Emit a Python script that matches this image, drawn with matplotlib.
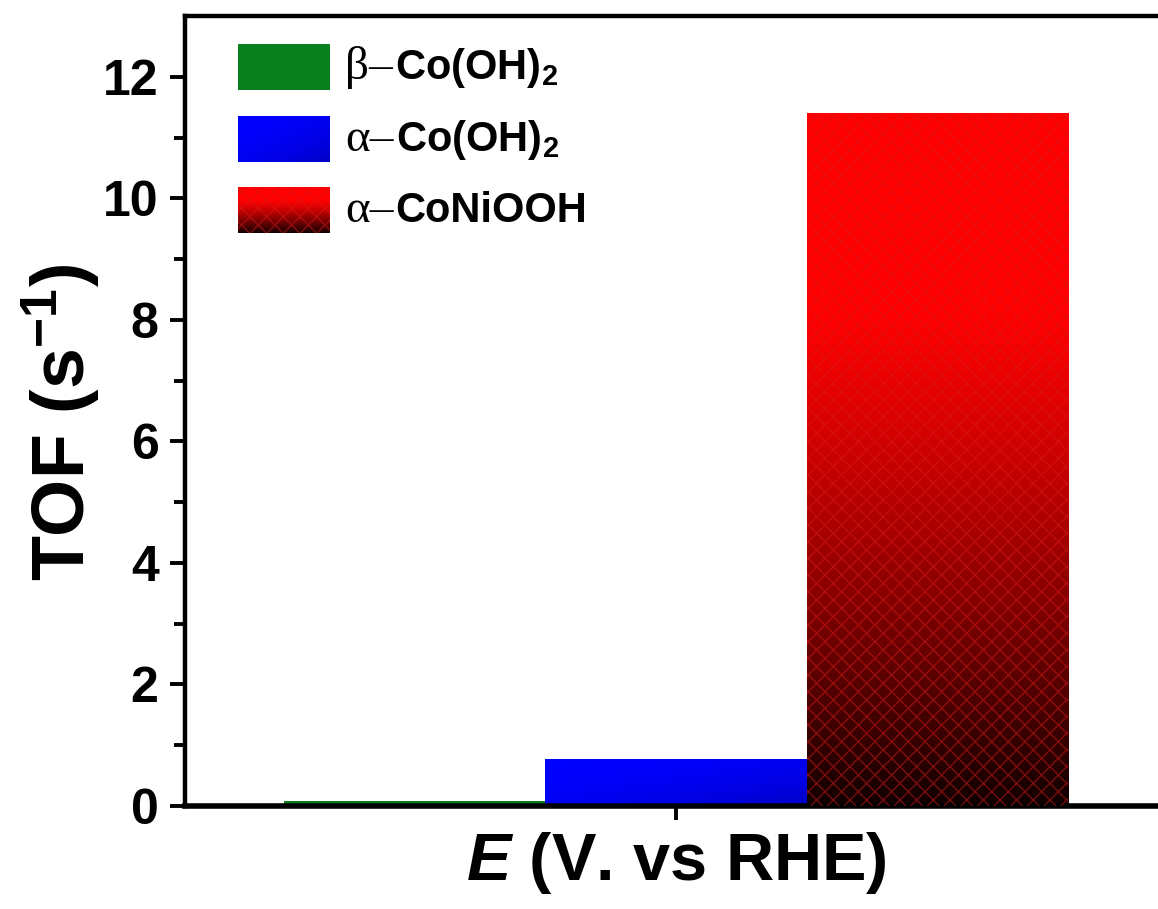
import numpy as np
import matplotlib
matplotlib.use('Agg')
import matplotlib.pyplot as plt
from matplotlib.image import BboxImage
from matplotlib.patches import Rectangle
from matplotlib.transforms import Bbox, TransformedBbox

# data
phases = ['β–', 'α–', 'α–']
compounds = [r'Co(OH)$_\mathbf{2}$', r'Co(OH)$_\mathbf{2}$', 'CoNiOOH']
tof = [0.07, 0.77, 11.4]
yticks = [0, 2, 4, 6, 8, 10, 12]

plt.rcParams['font.family'] = ['Liberation Sans', 'DejaVu Sans']
plt.rcParams['font.weight'] = 'bold'
plt.rcParams['mathtext.fontset'] = 'custom'
plt.rcParams['mathtext.rm'] = 'Liberation Serif'
plt.rcParams['mathtext.it'] = 'Liberation Sans:italic:bold'
plt.rcParams['mathtext.bf'] = 'Liberation Sans:bold'
plt.rcParams['hatch.linewidth'] = 1.0


def red_grad(n=300):
    t = np.linspace(0, 1, n)
    r = np.where(t < 0.28, 1.0, 1.0 - 0.94 * ((t - 0.28) / 0.72) ** 1.25)
    img = np.zeros((n, 2, 3))
    img[:, :, 0] = r[:, None]
    return img


def blue_grad(n=60):
    yy, xx = np.mgrid[0:1:n * 1j, 0:1:n * 1j]
    d = np.clip((xx + yy) / 2, 0, 1)
    img = np.zeros((n, n, 3))
    img[:, :, 2] = 1.0 - 0.22 * d ** 2
    return img


def green_fill(n=2):
    img = np.zeros((n, n, 3))
    img[:, :, 0] = 0.04
    img[:, :, 1] = 0.5
    img[:, :, 2] = 0.12
    return img


fills = [green_fill(), blue_grad(), red_grad()]
hatches = [None, None, 'xx']


def put_image(ax, img, x0, y0, x1, y1, trans, z):
    bb = TransformedBbox(Bbox([[x0, y0], [x1, y1]]), trans)
    im = BboxImage(bb, interpolation='bilinear', origin='upper')
    im.set_data(img)
    im.set_zorder(z)
    ax.add_artist(im)


fig = plt.figure(figsize=(11.58, 9.09), dpi=100)
ax = fig.add_axes([185 / 1158, 103 / 909, 1000 / 1158, 790 / 909])

width = 1.0
for i, (h, img, hat) in enumerate(zip(tof, fills, hatches)):
    x = i - 1
    bars = ax.bar(x, h, width, color='none', edgecolor='none', zorder=2)
    r = bars[0]
    put_image(ax, img, r.get_x(), 0, r.get_x() + r.get_width(), h, ax.transData, 1)
    if hat:
        ax.bar(x, h, width, color='none', edgecolor=(0.85, 0.1, 0.1, 0.5),
               linewidth=0, hatch=hat, zorder=3)

ax.set_xlim(-1.881, 1.95)
ax.set_ylim(0, 13)

# legend drawn by hand so the patches can carry the gradients
patch_bottoms = [0.906, 0.815, 0.725]
renderer = fig.canvas.get_renderer()
for ph, comp, img, hat, pb in zip(phases, compounds, fills, hatches, patch_bottoms):
    x0, x1 = 0.053, 0.145
    y0, y1 = pb, pb + 0.058
    put_image(ax, img, x0, y0, x1, y1, ax.transAxes, 4)
    if hat:
        ax.add_patch(Rectangle((x0, y0), x1 - x0, y1 - y0, transform=ax.transAxes,
                               facecolor='none', edgecolor=(0.85, 0.1, 0.1, 0.5),
                               linewidth=0, hatch=hat, zorder=5))
    yb = pb + 0.014
    t1 = ax.text(0.16, yb, ph, transform=ax.transAxes, fontsize=34,
                 family='Liberation Serif', fontweight='normal',
                 va='baseline', ha='left', zorder=6)
    ext = t1.get_window_extent(renderer)
    xa = ax.transAxes.inverted().transform((ext.x1 + 2, 0))[0]
    ax.text(xa, yb, comp, transform=ax.transAxes, fontsize=30,
            va='baseline', ha='left', zorder=6)

ax.set_xticks([0])
ax.set_xticklabels([''])
ax.set_yticks(yticks)
ax.set_yticks([1, 3, 5, 7, 9, 11], minor=True)
ax.tick_params(axis='y', which='major', direction='out', length=11, width=2.8,
               labelsize=36, pad=8)
ax.tick_params(axis='y', which='minor', direction='out', length=8, width=2.8)
ax.tick_params(axis='x', which='major', direction='out', length=10, width=2.8)
for s in ax.spines.values():
    s.set_linewidth(3.2)
ax.spines['bottom'].set_linewidth(4)

ax.set_ylabel(r'TOF (s$^{\mathbf{-1}}$)', fontsize=53, fontweight='bold')
ax.yaxis.set_label_coords(-0.083, 0.486)
ax.set_xlabel(r'$\mathit{E}$ (V. vs RHE)', fontsize=48, fontweight='bold')
ax.xaxis.set_label_coords(0.491, -0.03)

fig.savefig('out.png', dpi=100)
